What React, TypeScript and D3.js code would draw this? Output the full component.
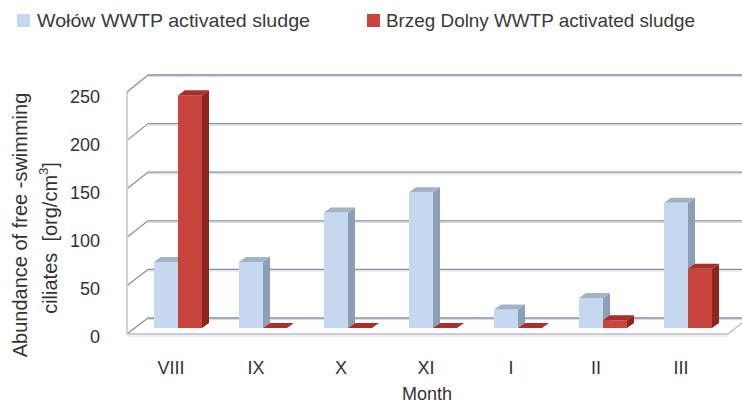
import React from "react";
import * as d3 from "d3";

const months = ["VIII", "IX", "X", "XI", "I", "II", "III"];
const wolow = [68, 68, 119, 140, 19, 31, 129];
const brzeg = [240, 0, 0, 0, 0, 8, 61];
const yTicks = [0, 50, 100, 150, 200, 250];
const seriesNames = ["Wołów WWTP activated sludge", "Brzeg Dolny WWTP activated sludge"];

const W = 742;
const H = 404;
const FONT = "'Liberation Sans', Arial, sans-serif";

const blueC = { front: "#c6d8ef", side: "#8d9fb4", top: "#a3b3c6" };
const redC = { front: "#c8453d", side: "#8e2521", top: "#a8302a" };

export default function App() {
  const frontLeft = 127;
  const backOff = { x: 21, y: -16 };
  const yFront = d3.scaleLinear().domain([0, 250]).range([334, 92]);
  const yBack = d3.scaleLinear().domain([0, 250]).range([318, 75]);
  const yBar = d3.scaleLinear().domain([0, 250]).range([328, 85.5]);
  const yLabel = d3.scaleLinear().domain([0, 250]).range([337, 97]);
  const x0 = d3.scaleBand<string>().domain(months).range([128.5, 723.5]);
  const x1 = d3.scaleBand<number>().domain([0, 1]).range([0, 48]);
  const planeDx = 7;
  const dx = 7;
  const dy = -5;

  const bars: React.ReactNode[] = [];
  months.forEach((m, i) => {
    [wolow[i], brzeg[i]].forEach((v, s) => {
      const c = s === 0 ? blueC : redC;
      const x = (x0(m) as number) + x0.bandwidth() / 2 - 24 + planeDx + (x1(s) as number);
      const w = x1.bandwidth();
      const yb = yBar(0);
      const yt = yBar(v);
      const top = `M${x},${yt}L${x + dx},${yt + dy}L${x + w + dx},${yt + dy}L${x + w},${yt}Z`;
      const side = `M${x + w},${yt}L${x + w + dx},${yt + dy}L${x + w + dx},${yb + dy}L${x + w},${yb}Z`;
      bars.push(
        <g key={`${m}-${s}`}>
          {v > 0 && <rect x={x} y={yt} width={w} height={yb - yt} fill={c.front} />}
          {v > 0 && <path d={side} fill={c.side} />}
          <path d={top} fill={c.top} />
        </g>
      );
    });
  });

  return (
    <svg width={W} height={H} style={{ position: "absolute", left: 0, top: 0, background: "#fff" }} fontFamily={FONT}>
      <rect width={W} height={H} fill="#fff" />
      {/* legend */}
      <rect x={17} y={14} width={13} height={13} fill={blueC.front} />
      <text x={37} y={27} fontSize={19} fill="#3a3a3a" textLength={273} lengthAdjust="spacingAndGlyphs">
        {seriesNames[0]}
      </text>
      <rect x={367} y={14} width={13} height={13} fill={redC.front} />
      <text x={386} y={27} fontSize={19} fill="#3a3a3a" textLength={309} lengthAdjust="spacingAndGlyphs">
        {seriesNames[1]}
      </text>

      {/* back wall gridlines */}
      {yTicks.map((t) => (
        <g key={`g${t}`}>
          <line x1={frontLeft + backOff.x} x2={W} y1={yBack(t)} y2={yBack(t)} stroke="#84909f" strokeWidth={1.3} />
          <line x1={frontLeft + backOff.x} x2={W} y1={yBack(t) + 1.6} y2={yBack(t) + 1.6} stroke="#d3d8df" strokeWidth={1} />
          <line x1={frontLeft + backOff.x} x2={frontLeft} y1={yBack(t)} y2={yFront(t)} stroke="#8a8f96" strokeWidth={1.2} />
        </g>
      ))}
      {/* left front axis */}
      <line x1={frontLeft} x2={frontLeft} y1={yFront(250)} y2={yFront(0)} stroke="#c2c6cc" strokeWidth={1.5} />
      {/* floor front edge */}
      <line x1={frontLeft} x2={728} y1={yFront(0)} y2={yFront(0)} stroke="#b9bec6" strokeWidth={1.3} />
      <line x1={frontLeft} x2={728} y1={yFront(0) + 2} y2={yFront(0) + 2} stroke="#dde0e5" strokeWidth={1} />
      <line x1={728} x2={748} y1={yFront(0)} y2={yBack(0)} stroke="#b9bec6" strokeWidth={1.3} />

      {bars}

      {/* y tick labels */}
      {yTicks.map((t) => (
        <text key={`t${t}`} x={100} y={yLabel(t)} fontSize={18} fill="#333" textAnchor="end" dominantBaseline="central">
          {t}
        </text>
      ))}
      {/* x labels */}
      {months.map((m) => (
        <text key={`x${m}`} x={(x0(m) as number) + x0.bandwidth() / 2} y={374} fontSize={18} fill="#333" textAnchor="middle">
          {m}
        </text>
      ))}
      <text x={427} y={400} fontSize={18} fill="#333" textAnchor="middle">
        Month
      </text>
      {/* y title */}
      <g transform="translate(27,225) rotate(-90)">
        <text x={0} y={0} fontSize={20} fill="#333" textAnchor="middle">
          Abundance of free -swimming
        </text>
      </g>
      <g transform="translate(57,238) rotate(-90)">
        <text x={0} y={0} fontSize={20} fill="#333" textAnchor="middle">
          {"ciliates\u00a0\u00a0[org/cm"}
          <tspan fontSize={13} dy={-9}>3</tspan>
          <tspan dy={9}>]</tspan>
        </text>
      </g>
    </svg>
  );
}
